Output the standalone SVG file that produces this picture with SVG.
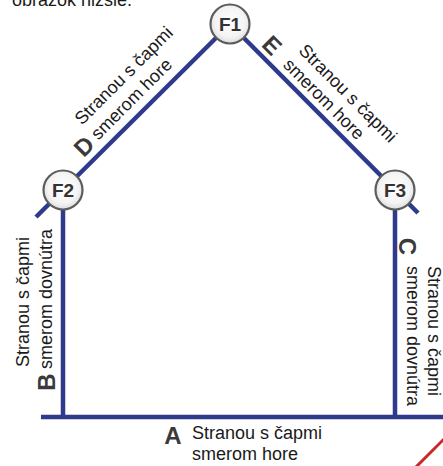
<svg xmlns="http://www.w3.org/2000/svg" width="443" height="466" viewBox="0 0 443 466">
<defs>
<radialGradient id="cg" cx="50%" cy="45%" r="55%">
<stop offset="0" stop-color="#ffffff"/>
<stop offset="0.7" stop-color="#f4f4f4"/>
<stop offset="1" stop-color="#dcdcdc"/>
</radialGradient>
<style>
.edge{stroke:#2e3a8c;stroke-width:4.5;fill:none;stroke-linecap:butt}
.red{stroke:#c8282c;stroke-width:3;fill:none}
.node circle{fill:url(#cg);stroke:#5c5c5c;stroke-width:2.2}
.node text{font-family:"Liberation Sans",Arial,sans-serif;font-weight:bold;font-size:19px;fill:#333;text-anchor:middle}
.lbl{font-family:"Liberation Sans",Arial,sans-serif;font-size:18px;fill:#1a1a1a}
.let{font-family:"Liberation Sans",Arial,sans-serif;font-weight:bold;font-size:24px;fill:#3a3a3a;text-anchor:middle}
</style>
</defs>
<rect width="443" height="466" fill="#ffffff"/>
<text class="lbl" x="12" y="6">obrázok nižšie.</text>
<g id="connectors">
<line class="edge" x1="36" y1="217" x2="230" y2="24"/>
<line class="edge" x1="230" y1="24" x2="418" y2="213"/>
<line class="edge" x1="63" y1="190" x2="63" y2="417"/>
<line class="edge" x1="395" y1="190" x2="395" y2="417"/>
<line class="edge" x1="41" y1="417" x2="443" y2="417"/>
<line class="red" x1="410" y1="473" x2="450" y2="433"/>
</g>
<g id="F1" class="node"><circle cx="230" cy="24" r="19.5"/><text x="230" y="31">F1</text></g>
<g id="F2" class="node"><circle cx="63" cy="190" r="19.5"/><text x="63" y="197">F2</text></g>
<g id="F3" class="node"><circle cx="395" cy="190" r="19.5"/><text x="395" y="197">F3</text></g>
<g id="side-D" transform="rotate(-45)">
<text class="let" x="-44" y="171">D</text>
<text class="lbl" x="-31" y="147">Stranou s čapmi</text>
<text class="lbl" x="-30" y="169">smerom hore</text>
</g>
<g id="side-E" transform="rotate(45)">
<text class="let" x="224.5" y="-152">E</text>
<text class="lbl" x="247" y="-174">Stranou s čapmi</text>
<text class="lbl" x="246" y="-153">smerom hore</text>
</g>
<g id="side-B" transform="rotate(-90)">
<text class="let" x="-382" y="55">B</text>
<text class="lbl" x="-367" y="29">Stranou s čapmi</text>
<text class="lbl" x="-369" y="52">smerom dovnútra</text>
</g>
<g id="side-C" transform="rotate(90)">
<text class="let" x="246.5" y="-399">C</text>
<text class="lbl" x="266" y="-428">Stranou s čapmi</text>
<text class="lbl" x="266" y="-407">smerom dovnútra</text>
</g>
<g id="side-A">
<text class="let" x="173" y="444">A</text>
<text class="lbl" x="192" y="439">Stranou s čapmi</text>
<text class="lbl" x="192" y="460">smerom hore</text>
</g>
</svg>
